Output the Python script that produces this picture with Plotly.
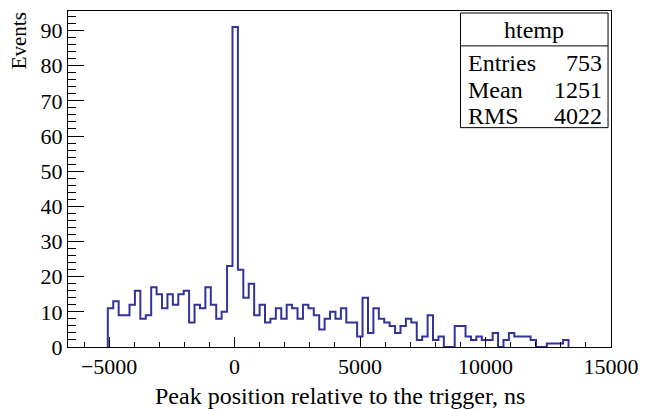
import plotly.graph_objects as go

# ---- data ----
hist_start = -5053.0      # low edge of the first non-empty bin
bin_width = 216.0
counts = [11, 13, 9, 9, 12, 16, 8, 9, 17, 15,
          11, 15, 12, 15, 16, 7, 12, 11, 17, 12,
          8, 10, 23, 91, 22, 14, 18, 9, 12, 7,
          8, 11, 8, 12, 11, 8, 12, 11, 9, 5,
          8, 10, 8, 11, 7, 7, 3, 14, 4, 11,
          8, 7, 6, 4, 6, 8, 7, 2, 3, 9,
          2, 3, 0, 0, 6, 6, 3, 2, 3, 2,
          2, 4, 0, 2, 4, 3, 3, 3, 2, 0,
          0, 1, 1, 1, 2]
x_range = [-6640, 15000]
y_max = 95.55
x_tick_vals = [-5000, 0, 5000, 10000, 15000]
x_tick_text = ["\u22125000", "0", "5000", "10000", "15000"]
y_tick_vals = [0, 10, 20, 30, 40, 50, 60, 70, 80, 90]
stats_title = "htemp"
stats_labels = ["Entries", "Mean", "RMS"]
stats_values = ["753", "1251", "4022"]
x_title = "Peak position relative to the trigger, ns"
y_title = "Events"

# ---- build step outline from bin edges ----
edges = [hist_start + i * bin_width for i in range(len(counts) + 1)]
sx, sy = [edges[0]], [0]
for i, c in enumerate(counts):
    sx += [edges[i], edges[i + 1]]
    sy += [c, c]
sx.append(edges[-1])
sy.append(0)

FONT = "Liberation Serif, Times New Roman, Times, serif"
LINE = "#333399"

fig = go.Figure()
fig.add_trace(go.Scatter(x=sx, y=sy, mode="lines",
                         line=dict(color=LINE, width=2),
                         hoverinfo="skip", showlegend=False))

W, H = 649, 409
L, R, T, B = 68, 29, 10, 62
pw, ph = W - L - R, H - T - B

def px(x):
    return (x - L) / pw

def py(y):
    return (H - B - y) / ph

fig.update_layout(
    width=W, height=H,
    margin=dict(l=L, r=R, t=T, b=B, pad=0),
    paper_bgcolor="white", plot_bgcolor="white",
    font=dict(family=FONT, size=22, color="black"),
    xaxis=dict(range=x_range, tickvals=x_tick_vals, ticktext=x_tick_text,
               ticks="inside",
               ticklen=10, tickwidth=1, tickcolor="black",
               showline=True, linecolor="black", linewidth=1, mirror=True,
               showgrid=False, zeroline=False,
               tickfont=dict(family=FONT, size=22, color="black"),
               minor=dict(dtick=1000, tick0=0, ticks="inside", ticklen=5,
                          tickcolor="black", showgrid=False)),
    yaxis=dict(range=[0, y_max], tickvals=y_tick_vals, ticks="inside",
               ticklen=16, tickwidth=1, tickcolor="black",
               showline=True, linecolor="black", linewidth=1, mirror=True,
               showgrid=False, zeroline=False,
               tickfont=dict(family=FONT, size=22, color="black"),
               minor=dict(dtick=2, tick0=0, ticks="inside", ticklen=8,
                          tickcolor="black", showgrid=False)),
)

# axis titles
fig.add_annotation(text=x_title, xref="paper", yref="paper",
                   x=0.5, y=py(396), xanchor="center", yanchor="middle",
                   showarrow=False, font=dict(family=FONT, size=24, color="black"))
fig.add_annotation(text=y_title, xref="paper", yref="paper",
                   x=px(18), y=py(9), xanchor="center", yanchor="top",
                   textangle=-90, showarrow=False,
                   font=dict(family=FONT, size=21, color="black"))

# stats box
bx0, bx1, by0, by1, bsep = 467, 617, 12, 127, 45
fig.add_shape(type="rect", xref="paper", yref="paper",
              x0=px(bx0), x1=px(bx1), y0=py(by1), y1=py(by0),
              line=dict(color="black", width=1), fillcolor="white", layer="above")
fig.add_shape(type="line", xref="paper", yref="paper",
              x0=px(bx0), x1=px(bx1), y0=py(bsep), y1=py(bsep),
              line=dict(color="black", width=1), layer="above")
fig.add_annotation(text=stats_title, xref="paper", yref="paper",
                   x=px((bx0 + bx1) / 2), y=py(29), xanchor="center", yanchor="middle",
                   showarrow=False, font=dict(family=FONT, size=24, color="black"))
row_y = [62, 89, 115]
for lab, val, ry in zip(stats_labels, stats_values, row_y):
    fig.add_annotation(text=lab, xref="paper", yref="paper",
                       x=px(bx0 + 6), y=py(ry), xanchor="left", yanchor="middle",
                       showarrow=False, font=dict(family=FONT, size=24, color="black"))
    fig.add_annotation(text=val, xref="paper", yref="paper",
                       x=px(bx1 - 4), y=py(ry), xanchor="right", yanchor="middle",
                       showarrow=False, font=dict(family=FONT, size=24, color="black"))

fig.write_html("out.html")
